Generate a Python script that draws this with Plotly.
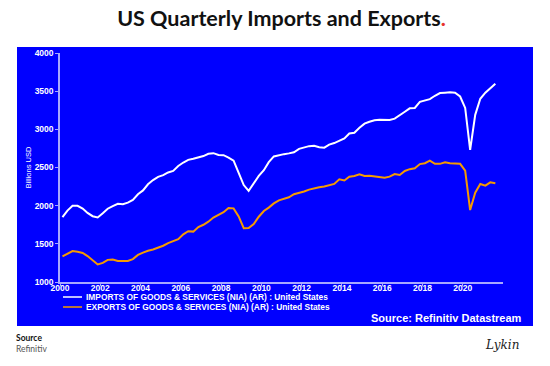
import plotly.graph_objects as go

years = list(range(2000, 2022))
imports = [
    1850, 1935, 1998, 1998,   # 2000
    1962, 1905, 1862, 1846,   # 2001
    1900, 1960, 1995, 2025,   # 2002
    2018, 2040, 2075, 2150,   # 2003
    2200, 2280, 2335, 2378,   # 2004
    2400, 2435, 2455, 2520,   # 2005
    2565, 2600, 2615, 2628,   # 2006
    2650, 2680, 2688, 2665,   # 2007
    2662, 2630, 2590, 2430,   # 2008
    2270, 2195, 2290, 2390,   # 2009
    2465, 2570, 2645, 2665,   # 2010
    2675, 2685, 2700, 2745,   # 2011
    2765, 2780, 2785, 2765,   # 2012
    2760, 2800, 2820, 2850,   # 2013
    2880, 2945, 2955, 3020,   # 2014
    3075, 3100, 3120, 3125,   # 2015
    3125, 3122, 3140, 3180,   # 2016
    3230, 3275, 3280, 3360,   # 2017
    3380, 3395, 3440, 3475,   # 2018
    3480, 3485, 3480, 3430,   # 2019
    3280, 2730, 3190, 3400,   # 2020
    3480, 3540, 3598,         # 2021
]
exports = [
    1335, 1375, 1405, 1395,   # 2000
    1380, 1340, 1280, 1230,   # 2001
    1250, 1290, 1295, 1276,   # 2002
    1275, 1276, 1300, 1355,   # 2003
    1385, 1410, 1425, 1450,   # 2004
    1475, 1510, 1530, 1560,   # 2005
    1625, 1665, 1660, 1720,   # 2006
    1750, 1790, 1845, 1880,   # 2007
    1915, 1970, 1965, 1860,   # 2008
    1705, 1708, 1760, 1855,   # 2009
    1930, 1975, 2030, 2070,   # 2010
    2090, 2110, 2150, 2165,   # 2011
    2185, 2210, 2230, 2240,   # 2012
    2250, 2265, 2285, 2345,   # 2013
    2330, 2380, 2390, 2410,   # 2014
    2390, 2392, 2382, 2370,   # 2015
    2367, 2380, 2415, 2402,   # 2016
    2455, 2478, 2490, 2545,   # 2017
    2556, 2590, 2548, 2548,   # 2018
    2568, 2556, 2548, 2548,   # 2019
    2460, 1942, 2170, 2284,   # 2020
    2262, 2306, 2293,         # 2021
]
series_names = [
    "IMPORTS OF GOODS & SERVICES (NIA) (AR) : United States",
    "EXPORTS OF GOODS & SERVICES (NIA) (AR) : United States",
]
x_ticks = [str(y) for y in range(2000, 2021, 2)]
y_ticks = [1000, 1500, 2000, 2500, 3000, 3500, 4000]

# mid-quarter dates
mid_months = ["02-15", "05-15", "08-15", "11-15"]
dates = [f"{y}-{m}" for y in years for m in mid_months][: len(imports)]

WHITE = "#FFFFFF"
ORANGE = "#F59A00"
BLUE = "#0000FF"
AXIS = "#A8A8FF"

W, H = 550, 366
ML, MR, MT, MB = 60, 47, 53, 84
PW, PH = W - ML - MR, H - MT - MB


def px_x(x):
    return (x - ML) / PW


def px_y(y):
    return (H - MB - y) / PH


fig = go.Figure()
fig.add_trace(go.Scatter(x=dates, y=imports, mode="lines", name=series_names[0],
                         line=dict(color=WHITE, width=2), showlegend=False))
fig.add_trace(go.Scatter(x=dates, y=exports, mode="lines", name=series_names[1],
                         line=dict(color=ORANGE, width=2), showlegend=False))

# blue panel
fig.add_shape(type="rect", xref="paper", yref="paper", layer="below",
              x0=px_x(17), x1=px_x(533), y0=px_y(326), y1=px_y(47),
              fillcolor=BLUE, line=dict(width=0))

tick_font = dict(family="Liberation Sans, Arial", size=8.5, color=WHITE)

fig.update_layout(
    width=W, height=H, autosize=False,
    margin=dict(l=ML, r=MR, t=MT, b=MB),
    paper_bgcolor="white", plot_bgcolor=BLUE,
    title=dict(text="<b>US Quarterly Imports and Exports<span style='color:#E5322D'>.</span></b>",
               x=0.5, xref="paper", xanchor="center", y=1 - 18 / H, yanchor="middle",
               font=dict(family="Lato", size=21.5, color="#111111")),
    xaxis=dict(type="date", range=["2000-01-01", "2022-01-01"],
               tickvals=[f"{t}-01-01" for t in x_ticks], ticktext=[f"<b>{t}</b>" for t in x_ticks],
               showgrid=False, zeroline=False, showline=True, linecolor=AXIS, linewidth=1.5,
               ticks="outside", ticklen=2, tickcolor=AXIS, tickfont=tick_font,
               ticklabelstandoff=-5),
    yaxis=dict(range=[1000, 4000], tickvals=y_ticks, ticktext=[f"<b>{t}</b>" for t in y_ticks],
               showgrid=False, zeroline=False, showline=True, linecolor=AXIS, linewidth=1.5,
               ticks="outside", ticklen=3, tickcolor=AXIS, tickfont=tick_font,
               title=dict(text="Billions USD", standoff=2,
                          font=dict(family="Liberation Sans, Arial", size=7.5, color=WHITE))),
)

# legend drawn manually (compact like the original)
leg_font = dict(family="Liberation Sans, Arial", size=8.4, color=WHITE)
leg_rows = [(297, WHITE), (307, ORANGE)]
for (ypx, col), name in zip(leg_rows, series_names):
    fig.add_shape(type="line", xref="paper", yref="paper",
                  x0=px_x(63), x1=px_x(82), y0=px_y(ypx), y1=px_y(ypx),
                  line=dict(color=col, width=1.5))
    fig.add_annotation(xref="paper", yref="paper", x=px_x(84), y=px_y(ypx),
                       xanchor="left", yanchor="middle", showarrow=False,
                       text=f"<b>{name}</b>", font=leg_font)

fig.add_annotation(xref="paper", yref="paper", x=px_x(524), y=px_y(318),
                   xanchor="right", yanchor="middle", showarrow=False,
                   text="<b>Source: Refinitiv Datastream</b>",
                   font=dict(family="Liberation Sans, Arial", size=11, color=WHITE))

# footer
fig.add_annotation(xref="paper", yref="paper", x=px_x(14), y=px_y(338),
                   xanchor="left", yanchor="middle", showarrow=False,
                   text="<b>Source</b>", font=dict(family="Lato", size=8.5, color="#111111"))
fig.add_annotation(xref="paper", yref="paper", x=px_x(14), y=px_y(349),
                   xanchor="left", yanchor="middle", showarrow=False,
                   text="Refinitiv", font=dict(family="Lato", size=8.5, color="#555555"))
fig.add_annotation(xref="paper", yref="paper", x=px_x(521), y=px_y(345),
                   xanchor="right", yanchor="middle", showarrow=False,
                   text="<i>Lykin</i>", font=dict(family="DejaVu Serif", size=12, color="#222222"))

fig.write_html("out.html", config={"displayModeBar": False},
               post_script="document.body.style.margin='0';")
